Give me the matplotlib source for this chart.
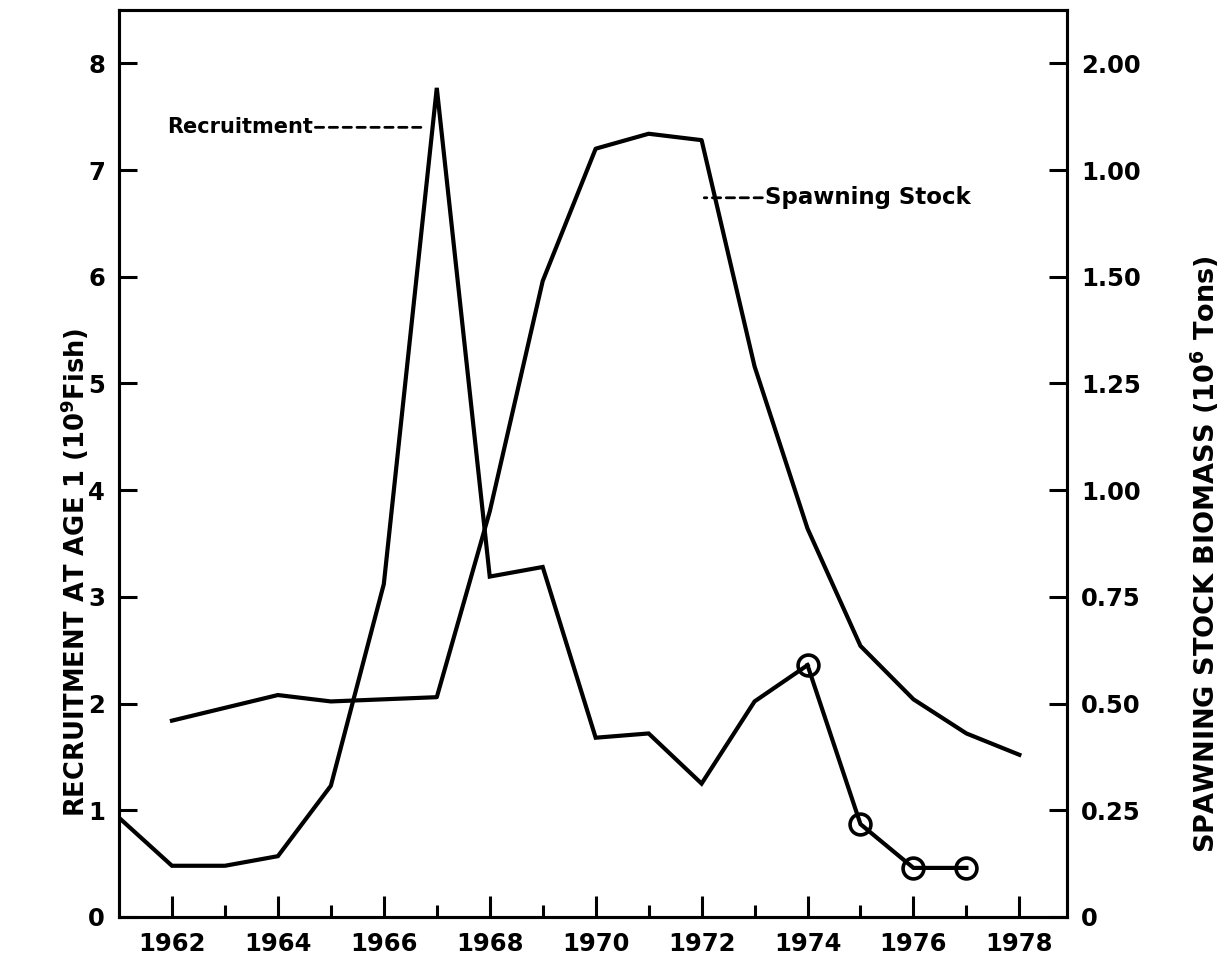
import matplotlib
matplotlib.use("Agg")
import matplotlib.pyplot as plt
import numpy as np

# Recruitment at age 1 (10^9 fish); last four years are the circled estimates
rec_years = [1961, 1962, 1963, 1964, 1965, 1966, 1967, 1968, 1969, 1970,
             1971, 1972, 1973, 1974]
rec_values = [0.93, 0.48, 0.48, 0.57, 1.23, 3.12, 7.77, 3.19, 3.28, 1.68,
              1.72, 1.25, 2.02, 2.36]
rec_est_years = [1974, 1975, 1976, 1977]
rec_est_values = [2.36, 0.87, 0.46, 0.46]

# Spawning stock biomass (10^6 tons)
ssb_years = [1962, 1963, 1964, 1965, 1966, 1967, 1968, 1969, 1970, 1971,
             1972, 1973, 1974, 1975, 1976, 1977, 1978]
ssb_values = [0.46, 0.49, 0.52, 0.505, 0.51, 0.515, 0.95, 1.49, 1.80, 1.835,
              1.82, 1.29, 0.91, 0.635, 0.51, 0.43, 0.38]

left_ticks = [0, 1, 2, 3, 4, 5, 6, 7, 8]
right_ticks = [0, 0.25, 0.50, 0.75, 1.00, 1.25, 1.50, 1.75, 2.00]
right_labels = ["0", "0.25", "0.50", "0.75", "1.00", "1.25", "1.50", "1.00", "2.00"]
year_ticks = list(range(1962, 1979, 2))

plt.rcParams["font.family"] = "DejaVu Sans"
plt.rcParams["font.weight"] = "bold"

fig = plt.figure(figsize=(12.32, 9.68), dpi=100)
ax = fig.add_axes([0.0966, 0.0527, 0.7695, 0.937])
ax2 = ax.twinx()

lw = 3.0
ax.plot(rec_years, rec_values, color="black", lw=lw, solid_joinstyle="miter")
ax.plot(rec_est_years, rec_est_values, color="black", lw=lw,
        marker="o", ms=15, mfc="none", mec="black", mew=2.6)
ax2.plot(ssb_years, ssb_values, color="black", lw=lw)

ax.set_xlim(1961.0, 1978.9)
ax.set_ylim(0, 8.5)
ax2.set_ylim(0, 8.5 / 4)

ax.set_xticks(year_ticks)
ax.set_xticks(range(1963, 1979, 2), minor=True)
ax.set_yticks(left_ticks)
ax2.set_yticks(right_ticks)
ax2.set_yticklabels(right_labels)

ax.tick_params(axis="x", which="major", direction="in", length=15, width=2.2,
               labelsize=17.5, pad=11)
ax.tick_params(axis="x", which="minor", direction="in", length=9, width=2.2)
ax.tick_params(axis="y", direction="in", length=13, width=2.2,
               labelsize=17.5, pad=10)
ax2.tick_params(axis="y", direction="in", length=13, width=2.2,
                labelsize=17.5, pad=10)

for a in (ax, ax2):
    for s in a.spines.values():
        s.set_linewidth(2.2)

ax.set_ylabel("RECRUITMENT AT AGE 1 (10$^{\\mathbf{9}}$Fish)", fontsize=18.5,
              fontweight="bold")
ax.yaxis.set_label_coords(-0.030, 0.38)
ax2.set_ylabel("SPAWNING STOCK BIOMASS (10$^{\\mathbf{6}}$ Tons)", fontsize=19.5,
               fontweight="bold")
ax2.yaxis.set_label_coords(1.128, 0.40)

# series labels with dashed leader lines
ax.annotate("Recruitment", xy=(1966.75, 7.40), xytext=(1961.9, 7.40),
            fontsize=15, fontweight="bold", va="center", ha="left",
            arrowprops=dict(arrowstyle="-", ls=(0, (3, 2)), lw=2.0,
                            color="black", shrinkA=0, shrinkB=0))
ax.annotate("Spawning Stock", xy=(1972.05, 6.74), xytext=(1973.2, 6.74),
            fontsize=16.5, fontweight="bold", va="center", ha="left",
            arrowprops=dict(arrowstyle="-", ls=(0, (3, 2)), lw=2.0,
                            color="black", shrinkA=0, shrinkB=0))

fig.savefig("out.png", dpi=100)
